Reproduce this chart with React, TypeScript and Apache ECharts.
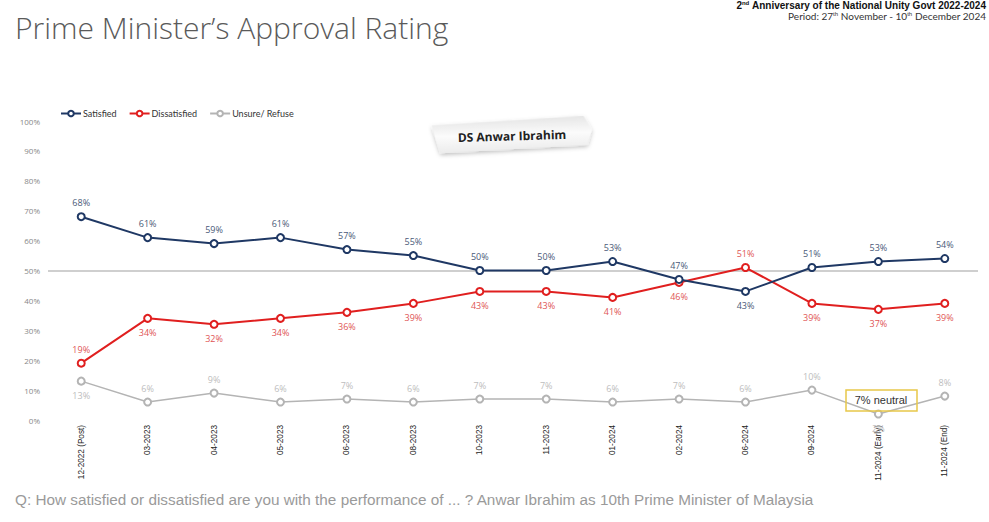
import React, { useEffect, useRef } from "react";
import * as echarts from "echarts";

const categories = [
  "12-2022 (Post)", "03-2023", "04-2023", "05-2023", "06-2023", "08-2023", "10-2023",
  "11-2023", "01-2024", "02-2024", "06-2024", "09-2024", "11-2024 (Early)", "11-2024 (End)",
];
const satisfied = [68, 61, 59, 61, 57, 55, 50, 50, 53, 47, 43, 51, 53, 54];
const dissatisfied = [19, 34, 32, 34, 36, 39, 43, 43, 41, 46, 51, 39, 37, 39];
const unsure = [13, 6, 9, 6, 7, 6, 7, 7, 6, 7, 6, 10, 2, 8];
const satisfiedBelow = [10];
const dissatisfiedAbove = [0, 10];
const unsureBelow = [0, 12];
const referenceLine = 50;
const title = "Prime Minister\u2019s Approval Rating";
const question =
  "Q: How satisfied or dissatisfied are you with the performance of ... ? Anwar Ibrahim as 10th Prime Minister of Malaysia";

const FONT = "'Open Sans', 'Liberation Sans', sans-serif";

function buildData(values: number[], defaultPos: string, otherIdx: number[], otherPos: string) {
  return values.map((v, i) => ({
    value: v,
    label: { position: otherIdx.includes(i) ? otherPos : defaultPos },
  }));
}

export default function App() {
  const ref = useRef<HTMLDivElement>(null);
  useEffect(() => {
    document.body.style.margin = "0";
    const chart = echarts.init(ref.current!, null, { renderer: "svg" });
    const mkSeries = (
      name: string,
      data: any[],
      color: string,
      labelColor: string,
      width: number,
      extra: any = {}
    ) => ({
      name,
      type: "line",
      data,
      symbol: "emptyCircle",
      symbolSize: 7,
      lineStyle: { color, width },
      itemStyle: { color, borderWidth: 1.5 },
      label: {
        show: true,
        formatter: "{c}%",
        color: labelColor,
        fontSize: 9,
        fontFamily: FONT,
        distance: 5,
      },
      z: 3,
      ...extra,
    });
    chart.setOption({
      animation: false,
      grid: { left: 48, right: 11, top: 121, bottom: 102 },
      legend: {
        left: 55,
        top: 104,
        itemWidth: 20,
        itemHeight: 7,
        itemGap: 12,
        textStyle: { fontSize: 9, color: "#333", fontFamily: "Lato, 'Open Sans', sans-serif", padding: [0, 0, 0, -3] },
        data: ["Satisfied", "Dissatisfied", "Unsure/ Refuse"],
      },
      xAxis: {
        type: "category",
        data: categories,
        boundaryGap: true,
        axisLine: { show: false },
        axisTick: { show: false },
        axisLabel: {
          rotate: 90,
          fontSize: 8.2,
          color: "#222",
          fontFamily: "'Liberation Sans', Arial, sans-serif",
          margin: 5,
          interval: 0,
        },
      },
      yAxis: {
        type: "value",
        min: 0,
        max: 100,
        interval: 10,
        axisLine: { show: false },
        axisTick: { show: false },
        splitLine: { show: false },
        axisLabel: {
          formatter: "{value}%",
          fontSize: 8,
          color: "#888",
          fontFamily: FONT,
          margin: 8,
        },
      },
      series: [
        mkSeries("Unsure/ Refuse", buildData(unsure, "top", unsureBelow, "bottom"), "#b4b4b4", "#bdbdbd", 1.5, {
          markLine: {
            silent: true,
            symbol: "none",
            label: { show: false },
            lineStyle: { color: "#bfbfbf", width: 1.5, type: "solid" },
            data: [{ yAxis: referenceLine }],
            z: 1,
          },
        }),
        mkSeries("Dissatisfied", buildData(dissatisfied, "bottom", dissatisfiedAbove, "top"), "#e01f1f", "#e05555", 2),
        mkSeries("Satisfied", buildData(satisfied, "top", satisfiedBelow, "bottom"), "#1f3864", "#4a5a78", 2),
      ],
      graphic: [
        {
          type: "text",
          left: 15,
          top: 12,
          style: {
            text: title,
            fontSize: 30,
            fontWeight: 300,
            fill: "#5a5a5a",
            fontFamily: FONT,
          },
        },
        {
          type: "text",
          x: 986,
          y: 0,
          style: {
            text: "2{sup|nd} Anniversary of the National Unity Govt 2022-2024",
            fontSize: 10,
            fontWeight: "bold",
            fill: "#111",
            align: "right",
            fontFamily: "'Liberation Sans Narrow', 'Liberation Sans', sans-serif",
            rich: { sup: { fontSize: 6, verticalAlign: "top", fontWeight: "bold", fill: "#111" } },
          },
        },
        {
          type: "text",
          x: 986,
          y: 11,
          style: {
            text: "Period: 27{sup|th} November - 10{sup|th} December 2024",
            fontSize: 10,
            fill: "#333",
            align: "right",
            fontFamily: "Lato, 'Open Sans', sans-serif",
            rich: { sup: { fontSize: 6, verticalAlign: "top", fill: "#333" } },
          },
        },
        {
          type: "group",
          x: 512,
          y: 135,
          rotation: 0.03,
          children: [
            {
              type: "polygon",
              shape: {
                points: [
                  [-80, -12], [72, -17], [80, -3], [75, 12], [-72, 16], [-76, 3],
                ],
              },
              style: {
                fill: new echarts.graphic.LinearGradient(0, 0, 0, 1, [
                  { offset: 0, color: "#e6e6e6" },
                  { offset: 0.5, color: "#fbfbfb" },
                  { offset: 1, color: "#ececec" },
                ]),
                shadowBlur: 4,
                shadowColor: "rgba(0,0,0,0.25)",
                shadowOffsetY: 2,
              },
            },
            {
              type: "text",
              x: 0,
              y: 1,
              style: {
                text: "DS Anwar Ibrahim",
                fontSize: 12,
                fontWeight: "bold",
                fill: "#222",
                fontFamily: FONT,
                align: "center",
                verticalAlign: "middle",
              },
            },
          ],
        },
        {
          type: "rect",
          shape: { x: 846, y: 390, width: 71, height: 21 },
          style: { fill: "rgba(255,255,255,0)", stroke: "#e8c84a", lineWidth: 1.5 },
          z: 10,
        },
        {
          type: "text",
          x: 881,
          y: 400,
          z: 11,
          style: {
            text: "7% neutral",
            fontSize: 11,
            fill: "#333",
            fontFamily: "'Liberation Sans', Arial, sans-serif",
            align: "center",
            verticalAlign: "middle",
          },
        },
        {
          type: "text",
          x: 15,
          y: 492,
          style: {
            text: question,
            fontSize: 15.3,
            fill: "#9a9a9a",
            fontFamily: "'Liberation Sans', Arial, sans-serif",
          },
        },
      ],
    });
    return () => chart.dispose();
  }, []);
  return (
    <div
      ref={ref}
      style={{ position: "fixed", left: 0, top: 0, width: 989, height: 522, background: "#fff" }}
    />
  );
}
